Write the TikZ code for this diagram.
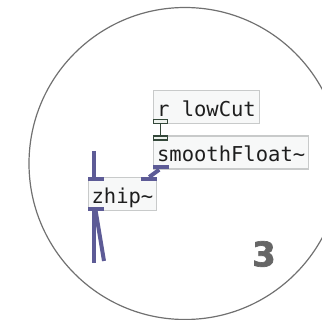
\documentclass[tikz,border=0pt]{standalone}
\usepackage{fontspec}
\usepackage{tikz}
\newfontfamily\pdmono{DejaVu Sans Mono}
\newfontfamily\numfont[BoldFeatures={FakeBold=2}]{DejaVu Sans}
\definecolor{sigline}{HTML}{5D5B96}
\definecolor{ctlline}{HTML}{34483A}
\definecolor{ctlfill}{HTML}{EEF2EE}
\definecolor{boxgray}{HTML}{C8CACA}
\definecolor{boxfill}{HTML}{F7F8F8}
\definecolor{pdtext}{HTML}{1E1E1E}
\definecolor{ringgray}{HTML}{707070}
\definecolor{numgray}{HTML}{666666}
\tikzset{pd box/.style={draw=boxgray,fill=boxfill,line width=1.2pt,rectangle,inner xsep=3.5pt,minimum height=33pt,text height=18pt,text depth=0pt,anchor=north west,text=pdtext,font=\pdmono\fontsize{20.5}{20.5}\selectfont}}
\tikzset{sig port/.style={fill=sigline,rectangle,inner sep=0,minimum width=16pt,minimum height=4pt}}
\tikzset{ctl port/.style={draw=ctlline,fill=ctlfill,line width=1.2pt,rectangle,inner sep=0,minimum width=14pt,minimum height=4pt}}
\tikzset{sig/.style={draw=sigline,line width=4pt}}
\tikzset{ctl/.style={draw=ctlline,line width=1.4pt}}

\begin{document}
\begin{tikzpicture}[x=1pt,y=-1pt]
          \useasboundingbox (0,0) rectangle (322,320);
          \clip (0,0) rectangle (322,320);

          %外の円
          \draw[ringgray, line width=1.2pt] (185,163.5) circle (156pt);

          %r lowCut
          \node[pd box] (recv) at (153,90) {r lowCut};
          \node[ctl port, anchor=south west] (recv-out) at (recv.south west) {};

          %smoothFloat~
          \node[pd box] (smooth) at (153,135.5) {smoothFloat\char`~};
          \node[ctl port, anchor=north west] (smooth-in) at (smooth.north west) {};
          \node[sig port, anchor=south west] (smooth-out) at (smooth.south west) {};

          %zhip~
          \node[pd box] (zhip) at (87.5,177) {zhip\char`~};
          \node[sig port, anchor=north west] (zhip-inl) at (zhip.north west) {};
          \node[sig port, anchor=north east] (zhip-inr) at (zhip.north east) {};
          \node[sig port, anchor=south west] (zhip-out) at (zhip.south west) {};

          %recv -> smooth
          \draw[ctl] (recv-out.south) -- (smooth-in.north);

          %smooth -> zhip
          \draw[sig] ([xshift=-2pt]smooth-out.south) -- (zhip-inr.north);

          %上からの入力
          \coordinate (sig-top) at (94,151);
          \draw[sig] (sig-top) -- (sig-top |- zhip-inl.north);

          %zhip の出力
          \coordinate (sig-a) at (94,263);
          \coordinate (sig-b) at (104,261);
          \draw[sig] (sig-a |- zhip-out.south) -- (sig-a);
          \draw[sig] (zhip-out.south) -- (sig-b);

          %番号
          \node[text=numgray, inner sep=0, font=\numfont\bfseries\fontsize{34}{34}\selectfont] (step3) at (264,254) {3};

        \end{tikzpicture}
\end{document}
